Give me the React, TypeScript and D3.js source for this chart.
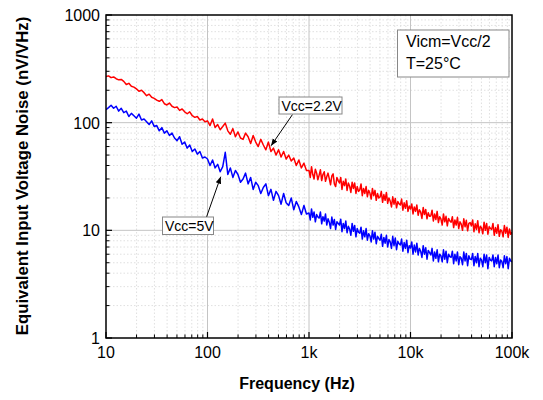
import React from "react";
import * as d3 from "d3";

// 80 log-spaced steps per decade; the two lowest decades use every other step
const MANTISSA = [
  1.0, 1.029, 1.059, 1.09, 1.122, 1.155, 1.189, 1.223, 1.259, 1.296, 1.334, 1.372, 1.413, 1.454, 1.496, 1.54,
  1.585, 1.631, 1.679, 1.728, 1.778, 1.83, 1.884, 1.939, 1.995, 2.054, 2.113, 2.175, 2.239, 2.304, 2.371, 2.441,
  2.512, 2.585, 2.661, 2.738, 2.818, 2.901, 2.985, 3.073, 3.162, 3.255, 3.35, 3.447, 3.548, 3.652, 3.758, 3.868,
  3.981, 4.097, 4.217, 4.34, 4.467, 4.597, 4.732, 4.87, 5.012, 5.158, 5.309, 5.464, 5.623, 5.788, 5.957, 6.131,
  6.31, 6.494, 6.683, 6.879, 7.079, 7.286, 7.499, 7.718, 7.943, 8.175, 8.414, 8.66, 8.913, 9.173, 9.441, 9.716,
];
const COARSE_DECADES = [10, 100];
const FINE_DECADES = [1000, 10000];
const FREQ = [
  ...COARSE_DECADES.flatMap((d) => MANTISSA.filter((_, k) => k % 2 === 0).map((m) => m * d)),
  ...FINE_DECADES.flatMap((d) => MANTISSA.map((m) => m * d)),
  100000,
];

const RED_22V = [
  // 10 - 100 Hz
  268, 272, 262, 266, 256, 250, 252, 242, 226, 232, 218, 214, 206, 196, 200, 190,
  178, 184, 172, 168, 162, 158, 164, 150, 146, 152, 142, 138, 140, 130, 134, 126,
  121, 126, 116, 112, 114, 106, 108, 102,
  // 100 Hz - 1 kHz
  104, 94, 108, 90, 96, 86, 92, 99, 84, 78, 88, 74, 82, 72, 70, 80,
  74, 64, 76, 66, 60, 70, 62, 56, 66, 54, 58, 50, 56, 48, 54, 46,
  50, 44, 47, 40, 45, 38, 42, 36,
  // 1 kHz - 10 kHz
  36, 31, 39, 33, 30, 37, 34, 29.5, 32.6, 36.5, 29, 33, 35, 28.5, 31.5, 34,
  30, 26.5, 32, 33.5, 27, 25.5, 31, 29, 27.5, 31, 24, 28.5, 26, 30, 23.5, 27.5,
  25.8, 22.5, 28, 24.5, 27.5, 22, 25.5, 23, 23.7, 27, 21, 24.5, 22, 25.5, 20.5, 23.5,
  22.2, 19.5, 24.5, 21, 23.5, 19, 22, 20, 20.4, 23, 18.2, 21.5, 19, 22.5, 17.8, 20,
  18.7, 16.5, 20.5, 17.5, 19.8, 16.2, 18.5, 17.6, 17.2, 19.5, 15.4, 18, 16, 18.8, 15, 16.8,
  // 10 kHz - 100 kHz
  15.8, 17.6, 14.2, 16.5, 15, 17.2, 13.8, 15.5, 14.8, 12.9, 16.3, 14, 15.6, 12.8, 14.6, 13.5,
  13.6, 15.4, 12.2, 14.2, 12.6, 15, 11.8, 13.4, 12.7, 11.2, 14.2, 12, 13.5, 11, 12.9, 12.2,
  11.9, 13.4, 10.6, 12.5, 11.2, 13.2, 10.4, 12, 11.4, 10, 12.8, 10.8, 12.4, 9.9, 11.6, 11.8,
  11.0, 12.5, 9.7, 11.5, 10.2, 12.3, 9.5, 10.9, 10.5, 9.3, 11.9, 10, 11.6, 9.2, 10.8, 10.4,
  10.2, 11.6, 9, 10.6, 9.4, 11.3, 8.8, 10.1, 9.85, 8.7, 11.1, 9.4, 10.7, 8.6, 10.3, 9.2,
  9.6,
];

const BLUE_5V = [
  // 10 - 100 Hz
  132, 138, 145, 136, 142, 128, 136, 124, 128, 114, 122, 116, 110, 120, 106, 108,
  102, 96, 104, 92, 94, 84, 90, 80, 84, 76, 80, 72, 68, 74, 63, 66,
  58, 62, 54, 57, 51, 54, 47, 48,
  // 100 Hz - 1 kHz
  46, 40, 45, 38, 41, 35, 39, 53, 33, 38, 31, 36, 33, 28, 30, 34,
  27, 31, 24, 28, 26, 22, 25, 27, 21, 24, 19, 23, 21, 17.5, 22, 18,
  17, 20, 15.5, 18.5, 16.5, 14, 17, 14.2,
  // 1 kHz - 10 kHz
  14.5, 12.5, 15.8, 13.2, 14.8, 12, 14, 13.3, 13, 14.8, 11.5, 13.4, 12.2, 14.2, 11.2, 12.8,
  11.9, 10.4, 13.3, 11.2, 12.6, 10.2, 12, 11.6, 11.2, 12.7, 9.7, 11.6, 10.4, 12.2, 9.5, 10.9,
  10.3, 9, 11.6, 9.8, 11.1, 8.7, 10.4, 9.6, 9.4, 10.7, 8.3, 9.9, 8.7, 10.4, 8.1, 9.3,
  8.9, 7.8, 9.9, 8.3, 9.6, 7.5, 8.8, 8.4, 8.1, 9.2, 7.1, 8.6, 7.6, 9, 7, 8.2,
  7.8, 6.8, 8.8, 7.2, 8.5, 6.6, 7.9, 7.5, 7.3, 8.3, 6.4, 7.7, 6.8, 8.1, 6.2, 7.2,
  // 10 kHz - 100 kHz
  6.85, 7.8, 6, 7.3, 6.3, 7.6, 5.9, 6.8, 6.4, 5.6, 7.2, 6, 6.9, 5.4, 6.5, 6.2,
  5.9, 6.8, 5.2, 6.3, 5.5, 6.6, 5.1, 6, 5.8, 5.1, 6.6, 5.4, 6.4, 5, 6, 5.7,
  5.6, 6.4, 4.9, 6, 5.2, 6.3, 4.8, 5.7, 5.5, 4.8, 6.3, 5.2, 6.1, 4.7, 5.8, 5.4,
  5.35, 6.1, 4.7, 5.7, 5, 6.1, 4.6, 5.5, 5.3, 4.6, 6, 5, 5.9, 4.4, 5.6, 5.3,
  5.2, 5.9, 4.6, 5.6, 4.9, 5.9, 4.5, 5.3, 5.13, 4.5, 5.8, 4.9, 5.7, 4.4, 5.5, 5.2,
  5.08,
];

const X_TICKS = [10, 100, 1000, 10000, 100000];
const X_LABELS = ["10", "100", "1k", "10k", "100k"];
const Y_TICKS = [1, 10, 100, 1000];
const Y_LABELS = ["1", "10", "100", "1000"];
const MINOR_STEPS = [2, 3, 4, 5, 6, 7, 8, 9];

const LEGEND_LINES = ["Vicm=Vcc/2", "T=25°C"];
const ANNOT_RED = { text: "Vcc=2.2V", f: 423, v: 61 };
const ANNOT_BLUE = { text: "Vcc=5V", f: 135, v: 31.5 };

export default function App() {
  const W = 543, H = 400;
  const L = 106, R = 512, T = 15, B = 338;
  const x = d3.scaleLog().domain([10, 100000]).range([L, R]);
  const y = d3.scaleLog().domain([1, 1000]).range([B, T]);

  const xMinor = [10, 100, 1000, 10000].flatMap((d) => MINOR_STEPS.map((m) => m * d));
  const yMinor = [1, 10, 100].flatMap((d) => MINOR_STEPS.map((m) => m * d));

  const line = d3
    .line<number>()
    .x((_, i) => x(FREQ[i]))
    .y((v) => y(v));

  const font = "'Liberation Sans', Arial, sans-serif";

  const redTip = [x(ANNOT_RED.f), y(ANNOT_RED.v)];
  const blueTip = [x(ANNOT_BLUE.f), y(ANNOT_BLUE.v)];

  return (
    <svg
      width={W}
      height={H}
      style={{ position: "absolute", left: 0, top: 0, background: "#fff" }}
      fontFamily={font}
    >
      <defs>
        <clipPath id="plot">
          <rect x={L} y={T} width={R - L} height={B - T} />
        </clipPath>
        <marker id="ah" viewBox="0 0 10 10" refX="10" refY="5" markerWidth="7" markerHeight="7" orient="auto">
          <path d="M0,1 L10,5 L0,9 Z" fill="#000" />
        </marker>
      </defs>
      <rect x={L} y={T} width={R - L} height={B - T} fill="#fff" />
      {xMinor.map((f) => (
        <line key={"xm" + f} x1={x(f)} x2={x(f)} y1={T} y2={B} stroke="#d8d8d8" strokeWidth={0.8} strokeDasharray="1.5,2" />
      ))}
      {yMinor.map((v) => (
        <line key={"ym" + v} x1={L} x2={R} y1={y(v)} y2={y(v)} stroke="#d8d8d8" strokeWidth={0.8} strokeDasharray="1.5,2" />
      ))}
      {X_TICKS.slice(1, -1).map((f) => (
        <line key={"xg" + f} x1={x(f)} x2={x(f)} y1={T} y2={B} stroke="#c4c4c4" strokeWidth={1} />
      ))}
      {Y_TICKS.slice(1, -1).map((v) => (
        <line key={"yg" + v} x1={L} x2={R} y1={y(v)} y2={y(v)} stroke="#c4c4c4" strokeWidth={1} />
      ))}
      <g clipPath="url(#plot)" fill="none" strokeWidth={1.5} strokeLinejoin="round">
        <path d={line(RED_22V) || ""} stroke="#ff0000" />
        <path d={line(BLUE_5V) || ""} stroke="#0000ff" />
      </g>
      {X_TICKS.map((f) => (
        <line key={"xt" + f} x1={x(f)} x2={x(f)} y1={B} y2={B - 6} stroke="#000" strokeWidth={1.2} />
      ))}
      {xMinor.map((f) => (
        <line key={"xmt" + f} x1={x(f)} x2={x(f)} y1={B} y2={B - 3.5} stroke="#000" strokeWidth={1} />
      ))}
      {Y_TICKS.map((v) => (
        <line key={"yt" + v} x1={L} x2={L + 6} y1={y(v)} y2={y(v)} stroke="#000" strokeWidth={1.2} />
      ))}
      {yMinor.map((v) => (
        <line key={"ymt" + v} x1={L} x2={L + 3.5} y1={y(v)} y2={y(v)} stroke="#000" strokeWidth={1} />
      ))}
      <rect x={L} y={T} width={R - L} height={B - T} fill="none" stroke="#000" strokeWidth={1.5} />
      {X_TICKS.map((f, i) => (
        <text key={"xl" + f} x={x(f)} y={358} textAnchor="middle" fontSize={16} fill="#000">
          {X_LABELS[i]}
        </text>
      ))}
      {Y_TICKS.map((v, i) => (
        <text key={"yl" + v} x={100} y={y(v) + 6} textAnchor="end" fontSize={16} fill="#000">
          {Y_LABELS[i]}
        </text>
      ))}
      <text x={297} y={389} textAnchor="middle" fontSize={16} fontWeight="bold" fill="#000">
        Frequency (Hz)
      </text>
      <text
        transform={`translate(28,${176}) rotate(-90)`}
        textAnchor="middle"
        fontSize={16.8}
        fontWeight="bold"
        fill="#000"
      >
        Equivalent Input Voltage Noise (nV/VHz)
      </text>
      <rect x={397.5} y={30} width={111.5} height={47} fill="#fff" stroke="#888" strokeWidth={1} />
      {LEGEND_LINES.map((t, i) => (
        <text key={t} x={406} y={46.5 + i * 22.6} fontSize={16} fill="#000">
          {t}
        </text>
      ))}
      <line x1={292.5} y1={114.5} x2={redTip[0]} y2={redTip[1]} stroke="#000" strokeWidth={1} markerEnd="url(#ah)" />
      <rect x={279} y={97} width={63} height={17} fill="#fff" stroke="#888" strokeWidth={1} />
      <text x={281.5} y={110.5} fontSize={14} fill="#000">
        {ANNOT_RED.text}
      </text>
      <line x1={206.5} y1={217} x2={blueTip[0]} y2={blueTip[1]} stroke="#000" strokeWidth={1} markerEnd="url(#ah)" />
      <rect x={162.5} y={217} width={51} height={17.5} fill="#fff" stroke="#888" strokeWidth={1} />
      <text x={165} y={231} fontSize={14} fill="#000">
        {ANNOT_BLUE.text}
      </text>
    </svg>
  );
}
